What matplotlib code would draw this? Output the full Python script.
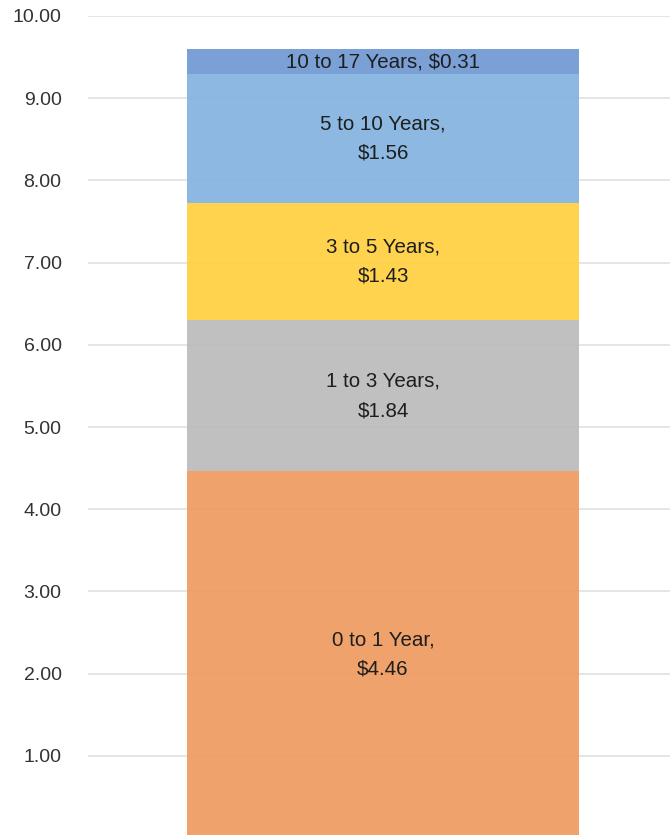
import matplotlib
matplotlib.use('Agg')
import matplotlib.pyplot as plt

plt.rcParams['font.family'] = ['Liberation Sans', 'DejaVu Sans']

segments = ['0 to 1 Year', '1 to 3 Years', '3 to 5 Years', '5 to 10 Years', '10 to 17 Years']
values = [4.46, 1.84, 1.43, 1.56, 0.31]
colors = ['#EE9A5E', '#BBBBBB', '#FFD03F', '#82B2DF', '#7098D3']
yticks = [1, 2, 3, 4, 5, 6, 7, 8, 9, 10]

fig = plt.figure(figsize=(6.7, 8.35), dpi=100)
ax = fig.add_axes([88 / 670, -3 / 835, 582 / 670, 822 / 835])

bottom = 0
for name, v, c in zip(segments, values, colors):
    ax.bar(0, v, width=1, bottom=bottom, color=c, alpha=0.92, zorder=2, linewidth=0)
    mid = bottom + v / 2
    if v < 0.5:
        label = '%s, $%.2f' % (name, v)
    else:
        label = '%s,\n$%.2f' % (name, v)
    ax.text(0, mid, label, ha='center', va='center', fontsize=14.8,
            color='#1E1E1E', linespacing=1.7, zorder=3)
    bottom += v

ax.set_xlim(-(383 - 88) / 392, (670 - 383) / 392)
ax.set_ylim(0, 10)
ax.set_yticks(yticks)
ax.set_yticklabels(['%.2f' % t for t in yticks])
ax.set_xticks([])
ax.tick_params(axis='y', length=0, pad=19, labelsize=14, labelcolor='#333333')
ax.grid(axis='y', color='#E3E3E3', linewidth=1.3, zorder=1)
ax.set_axisbelow(True)
for s in ax.spines.values():
    s.set_visible(False)

fig.savefig('out.png', dpi=100)
